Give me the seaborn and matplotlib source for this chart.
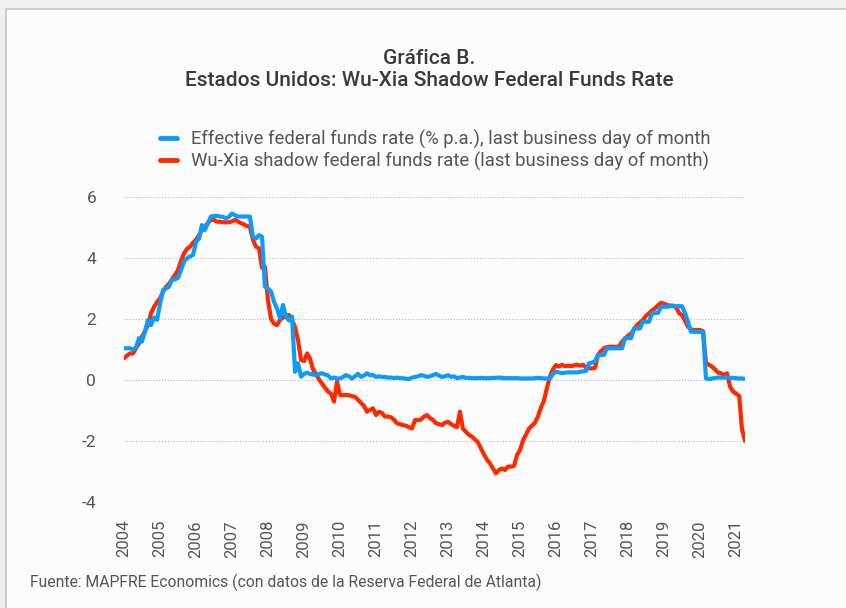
import numpy as np
import pandas as pd
import matplotlib
matplotlib.use("Agg")
import matplotlib.pyplot as plt
import matplotlib.dates as mdates
from matplotlib.patches import Rectangle
from matplotlib.lines import Line2D
import seaborn as sns

# ---------------- DATA (monthly, Jan 2004 - Apr 2021) ----------------

start_month = "2004-01-01"

effective_ffr = [
    1.04, 1.04, 1.04, 1.00, 1.05, 1.37, 1.26, 1.60, 1.97, 1.80, 2.05, 1.97,   # 2004
    2.50, 2.95, 3.00, 3.06, 3.28, 3.30, 3.35, 3.60, 3.88, 3.99, 4.05, 4.10,   # 2005
    4.53, 4.64, 5.08, 4.92, 5.14, 5.36, 5.38, 5.38, 5.36, 5.35, 5.30, 5.35,   # 2006
    5.46, 5.40, 5.36, 5.36, 5.36, 5.36, 5.36, 4.70, 4.64, 4.75, 4.70, 3.06,   # 2007
    3.00, 2.90, 2.57, 2.35, 2.02, 2.46, 2.08, 1.95, 2.08, 0.27, 0.55, 0.11,   # 2008
    0.20, 0.24, 0.20, 0.18, 0.16, 0.20, 0.22, 0.18, 0.15, 0.05, 0.08, 0.05,   # 2009
    0.05, 0.10, 0.16, 0.12, 0.05, 0.12, 0.20, 0.10, 0.15, 0.22, 0.16, 0.16,   # 2010
    0.10, 0.12, 0.10, 0.10, 0.08, 0.08, 0.06, 0.08, 0.06, 0.06, 0.04, 0.03,   # 2011
    0.08, 0.10, 0.12, 0.16, 0.14, 0.10, 0.12, 0.16, 0.20, 0.14, 0.10, 0.12,   # 2012
    0.16, 0.10, 0.12, 0.06, 0.08, 0.10, 0.07, 0.07, 0.06, 0.06, 0.06, 0.07,   # 2013
    0.06, 0.06, 0.06, 0.07, 0.07, 0.08, 0.07, 0.06, 0.06, 0.06, 0.06, 0.06,   # 2014
    0.05, 0.05, 0.05, 0.05, 0.05, 0.06, 0.07, 0.06, 0.05, 0.05, 0.05, 0.20,   # 2015
    0.27, 0.25, 0.22, 0.24, 0.25, 0.25, 0.25, 0.25, 0.27, 0.28, 0.30, 0.55,   # 2016
    0.57, 0.62, 0.82, 0.82, 0.82, 1.04, 1.04, 1.04, 1.04, 1.04, 1.04, 1.37,   # 2017
    1.37, 1.37, 1.69, 1.69, 1.69, 1.91, 1.91, 1.91, 2.19, 2.19, 2.20, 2.40,   # 2018
    2.40, 2.40, 2.42, 2.42, 2.42, 2.42, 2.42, 2.20, 1.91, 1.58, 1.58, 1.58,   # 2019
    1.58, 1.58, 0.05, 0.03, 0.05, 0.07, 0.08, 0.08, 0.08, 0.08, 0.07, 0.07,   # 2020
    0.06, 0.05, 0.05, 0.04,                                                   # 2021
]

shadow_rate = [
    0.71, 0.80, 0.87, 0.87, 1.04, 1.20, 1.42, 1.60, 1.80, 2.19, 2.40, 2.55,   # 2004
    2.68, 2.90, 3.05, 3.15, 3.30, 3.44, 3.60, 3.90, 4.15, 4.30, 4.37, 4.50,   # 2005
    4.60, 4.75, 4.90, 5.03, 5.15, 5.25, 5.25, 5.19, 5.19, 5.17, 5.17, 5.17,   # 2006
    5.20, 5.25, 5.20, 5.14, 5.10, 5.05, 5.03, 4.60, 4.37, 4.32, 3.68, 3.71,   # 2007
    2.60, 2.00, 1.85, 1.80, 1.97, 2.05, 2.10, 2.13, 1.95, 1.75, 1.30, 0.66,   # 2008
    0.62, 0.87, 0.71, 0.35, 0.20, 0.02, -0.12, -0.25, -0.38, -0.45, -0.71, -0.05,  # 2009
    -0.49, -0.50, -0.49, -0.50, -0.53, -0.55, -0.65, -0.75, -0.85, -1.04, -0.98, -0.93,  # 2010
    -1.15, -1.04, -1.08, -1.20, -1.20, -1.22, -1.30, -1.42, -1.45, -1.48, -1.50, -1.55,  # 2011
    -1.59, -1.31, -1.31, -1.30, -1.20, -1.15, -1.25, -1.31, -1.42, -1.45, -1.48, -1.40,  # 2012
    -1.37, -1.45, -1.50, -1.55, -1.04, -1.60, -1.70, -1.80, -1.86, -1.95, -2.05, -2.25,  # 2013
    -2.45, -2.62, -2.73, -2.90, -3.06, -2.95, -2.90, -2.95, -2.84, -2.84, -2.82, -2.46,  # 2014
    -2.30, -1.97, -1.80, -1.60, -1.50, -1.40, -1.20, -0.90, -0.68, -0.25, 0.12, 0.35,    # 2015
    0.49, 0.44, 0.50, 0.45, 0.47, 0.45, 0.48, 0.50, 0.47, 0.50, 0.40, 0.38,   # 2016
    0.38, 0.40, 0.82, 0.95, 1.04, 1.08, 1.09, 1.09, 1.09, 1.10, 1.25, 1.37,   # 2017
    1.45, 1.53, 1.65, 1.80, 1.88, 1.97, 2.10, 2.19, 2.28, 2.35, 2.45, 2.53,   # 2018
    2.50, 2.46, 2.44, 2.44, 2.40, 2.20, 2.13, 1.95, 1.75, 1.66, 1.64, 1.64,   # 2019
    1.64, 1.60, 0.55, 0.50, 0.44, 0.35, 0.24, 0.22, 0.16, 0.22, -0.22, -0.38,  # 2020
    -0.45, -0.52, -1.60, -2.00,                                               # 2021
]

label_eff = "Effective federal funds rate (% p.a.), last business day of month"
label_wx = "Wu-Xia shadow federal funds rate (last business day of month)"

title_1 = "Gráfica B."
title_2 = "Estados Unidos: Wu-Xia Shadow Federal Funds Rate"
source_txt = "Fuente: MAPFRE Economics (con datos de la Reserva Federal de Atlanta)"

y_ticks = [-4, -2, 0, 2, 4, 6]

# ---------------- LONG FORMAT ----------------

dates = pd.date_range(start_month, periods=len(shadow_rate), freq="MS")
df = pd.concat([
    pd.DataFrame({"date": dates, "value": shadow_rate, "serie": label_wx}),
    pd.DataFrame({"date": dates, "value": effective_ffr, "serie": label_eff}),
], ignore_index=True)

palette = {label_eff: "#0d9bfb", label_wx: "#fd2a00"}

# ---------------- STYLE ----------------

sns.set_style("white")
plt.rcParams["font.family"] = ["Roboto", "DejaVu Sans"]
txt_color = "#555555"

fig = plt.figure(figsize=(8.46, 6.08), dpi=100)
fig.patch.set_facecolor("#efefef")
# panel with thin border, behind everything else
fig.patches.append(Rectangle((6 / 846, -0.01), 1.0, 1 - 9 / 608 + 0.01,
                             transform=fig.transFigure, facecolor="#fcfcfc",
                             edgecolor="#c4c4c4", linewidth=1.2, zorder=-10))

ax = fig.add_axes([124 / 846, 106 / 608, 621 / 846, 305 / 608])
ax.set_facecolor("none")
ax.set_zorder(5)

sns.lineplot(data=df, x="date", y="value", hue="serie", palette=palette,
             linewidth=3.0, ax=ax, legend=False)

# ---------------- AXES ----------------

ax.set_xlim(pd.Timestamp("2004-01-01"), pd.Timestamp("2021-04-01"))
ax.set_ylim(-4, 6)
ax.set_yticks(y_ticks)
ax.set_yticklabels([str(v) for v in y_ticks])
ax.xaxis.set_major_locator(mdates.YearLocator())
ax.xaxis.set_major_formatter(mdates.DateFormatter("%Y"))
ax.set_xlabel("")
ax.set_ylabel("")

ax.tick_params(axis="y", length=0, pad=20, labelsize=12.5, labelcolor=txt_color)
ax.tick_params(axis="x", length=0, pad=13, labelsize=12, labelcolor=txt_color,
               labelrotation=90)

for s in ax.spines.values():
    s.set_visible(False)

ax.yaxis.grid(True, color="#b8b8b8", linestyle=(0, (1, 1.6)), linewidth=0.8)
ax.xaxis.grid(False)
ax.set_axisbelow(True)
ax.get_ygridlines()[0].set_visible(False)

# ---------------- LEGEND ----------------

handles = [Line2D([], [], color=palette[label_eff], linewidth=3.5),
           Line2D([], [], color=palette[label_wx], linewidth=3.5)]
fig.legend(handles, [label_eff, label_wx], loc="upper left",
           bbox_to_anchor=(160 / 846, 1 - 130 / 608), frameon=False,
           fontsize=13.3, labelcolor=txt_color, handlelength=0.9,
           handletextpad=0.8, labelspacing=0.12, borderpad=0, borderaxespad=0)

# ---------------- TEXTS ----------------

fig.text(0.507, 1 - 59 / 608, title_1, ha="center", va="center",
         fontsize=15, color="#3a3a3a", fontweight="medium")
fig.text(0.507, 1 - 81 / 608, title_2, ha="center", va="center",
         fontsize=15, color="#3a3a3a", fontweight="medium")
fig.text(30 / 846, 1 - 582 / 608, source_txt, ha="left", va="center",
         fontsize=11.3, color=txt_color)

fig.savefig("out.png", dpi=100, facecolor=fig.get_facecolor())
